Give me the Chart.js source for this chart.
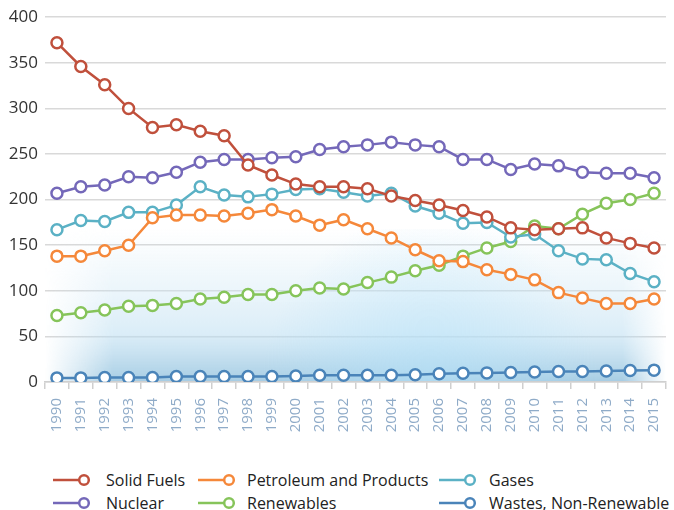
<!DOCTYPE html>
<html>
<head>
<meta charset="utf-8">
<script src="https://cdn.jsdelivr.net/npm/chart.js@4.4.1/dist/chart.umd.min.js"></script>
<style>
    html,body{margin:0;padding:0;background:#fff;}
    #wrap{position:relative;width:674px;height:510px;overflow:hidden;}
    #box{position:absolute;left:0;top:0;width:674px;height:445px;}
    .lg{position:absolute;font-family:"Open Sans",sans-serif;font-size:16px;color:#222;white-space:nowrap;line-height:20px;}
    .lg canvas{position:absolute;left:0;top:3px;}
    .lg span{position:absolute;top:0;}
</style>
</head>
<body>
<div id="wrap">
    <div id="box"><canvas id="chart"></canvas></div>
    <div id="legend"></div>
</div>
<script>
const years=['1990','1991','1992','1993','1994','1995','1996','1997','1998','1999','2000','2001','2002',
    '2003','2004','2005','2006','2007','2008','2009','2010','2011','2012','2013','2014','2015'];
const yTicks=[0,50,100,150,200,250,300,350,400];

const solidFuels=[372,346,326,300,279,282,275,270,238,227,217,214,214,212,204,199,194,188,181,169,167,168,169,158,152,147];
const petroleum=[138,138,144,150,180,183,183,182,185,189,182,172,178,168,158,145,133,132,123,118,112,98,92,86,86,91];
const gases=[167,177,176,186,186,194,214,205,203,206,211,212,208,204,207,193,185,174,175,159,162,144,135,134,119,110];
const nuclear=[207,214,216,225,224,230,241,244,244,246,247,255,258,260,263,260,258,244,244,233,239,237,230,229,229,224];
const renewables=[73,76,79,83,84,86,91,93,96,96,100,103,102,109,115,122,128,138,147,154,171,168,184,196,200,207];
const wastes=[4.5,4.5,4.8,4.8,5,6,6,6,6,6,6.5,7.5,7.5,7.5,7.5,8,9,9.5,10,10.5,11,11.5,11.5,12,12.5,13];

const series=[
    {label:'Solid Fuels',data:solidFuels,color:'#c0503c'},
    {label:'Petroleum and Products',data:petroleum,color:'#f5883a'},
    {label:'Gases',data:gases,color:'#5bb1c5'},
    {label:'Nuclear',data:nuclear,color:'#7468b9'},
    {label:'Renewables',data:renewables,color:'#86c45a'},
    {label:'Wastes, Non-Renewable',data:wastes,color:'#4a84b9'}
];

// soft blue haze behind the lower part of the plot
const haze={
    id:'haze',
    beforeDatasetsDraw(chart){
        const {ctx,chartArea:a}=chart;
        const top=a.top+212, w=a.right-a.left, h=a.bottom-top;
        const off=document.createElement('canvas');
        off.width=w;off.height=h;
        const o=off.getContext('2d');
        const v=o.createLinearGradient(0,0,0,h);
        v.addColorStop(0,'rgba(205,230,244,0)');
        v.addColorStop(0.3,'rgba(205,230,244,0.3)');
        v.addColorStop(0.7,'rgba(185,220,240,0.55)');
        v.addColorStop(1,'rgba(150,195,222,0.85)');
        o.fillStyle=v;
        o.fillRect(0,0,w,h);
        // brighter sky-blue patch toward the lower right
        const r=o.createRadialGradient(w*0.62,h,0,w*0.62,h,h*1.1);
        r.addColorStop(0,'rgba(180,225,248,0.6)');
        r.addColorStop(1,'rgba(180,225,248,0)');
        o.fillStyle=r;
        o.fillRect(0,0,w,h);
        // fade out at both ends
        o.globalCompositeOperation='destination-in';
        const m=o.createLinearGradient(0,0,w,0);
        m.addColorStop(0,'rgba(0,0,0,0)');
        m.addColorStop(0.11,'rgba(0,0,0,1)');
        m.addColorStop(0.93,'rgba(0,0,0,1)');
        m.addColorStop(1,'rgba(0,0,0,0)');
        o.fillStyle=m;
        o.fillRect(0,0,w,h);
        ctx.save();
        ctx.drawImage(off,a.left,top);
        ctx.restore();
    }
};

const ctx=document.getElementById('chart');
const chart=new Chart(ctx,{
    type:'line',
    data:{
        labels:years,
        datasets:series.map(s=>({
            label:s.label,
            data:s.data,
            borderColor:s.color,
            backgroundColor:'#ffffff',
            pointBackgroundColor:'#ffffff',
            pointBorderColor:s.color,
            pointRadius:5.5,
            pointBorderWidth:2.5,
            borderWidth:2.5,
            tension:0
        }))
    },
    options:{
        responsive:true,
        maintainAspectRatio:false,
        animation:false,
        layout:{padding:{top:12,right:5,left:0,bottom:0}},
        plugins:{legend:{display:false},tooltip:{enabled:false}},
        scales:{
            x:{
                offset:true,
                grid:{display:true,drawOnChartArea:false,drawTicks:true,tickLength:7,color:'#cfcfcf',lineWidth:1.5,offset:true},
                border:{display:true,color:'#cfcfcf',width:1.5},
                ticks:{
                    maxRotation:90,minRotation:90,autoSkip:false,padding:9,
                    color:'#8fabc8',
                    font:{family:'"Open Sans",sans-serif',size:15}
                },
                afterFit(scale){
                    scale.height=63;
                    scale.paddingLeft=0;
                    scale.paddingRight=0;
                }
            },
            y:{
                min:0,max:400,
                afterBuildTicks(scale){scale.ticks=yTicks.map(v=>({value:v}));},
                grid:{color:'#d9d9d9',lineWidth:1.5,drawTicks:false},
                border:{display:false},
                ticks:{
                    padding:7,color:'#333333',
                    font:{family:'"Open Sans",sans-serif',size:17}
                },
                afterFit(scale){scale.width=45;}
            }
        }
    },
    plugins:[haze]
});

// legend: three columns, two rows
const legend=document.getElementById('legend');
const cols=[53,198,439];
const textOffset=[53,49,50];
const rows=[470,493];
series.forEach((s,i)=>{
    const item=document.createElement('div');
    item.className='lg';
    item.style.left=cols[i%3]+'px';
    item.style.top=rows[Math.floor(i/3)]+'px';
    const c=document.createElement('canvas');
    c.width=40;c.height=14;
    const g=c.getContext('2d');
    g.strokeStyle=s.color;
    g.lineWidth=2.5;
    g.beginPath();g.moveTo(0,7);g.lineTo(27,7);g.stroke();
    g.beginPath();g.arc(31,7,4.8,0,Math.PI*2);
    g.fillStyle='#fff';g.fill();g.stroke();
    item.appendChild(c);
    const t=document.createElement('span');
    t.style.left=textOffset[i%3]+'px';
    t.textContent=s.label;
    item.appendChild(t);
    legend.appendChild(item);
});
</script>
</body>
</html>
